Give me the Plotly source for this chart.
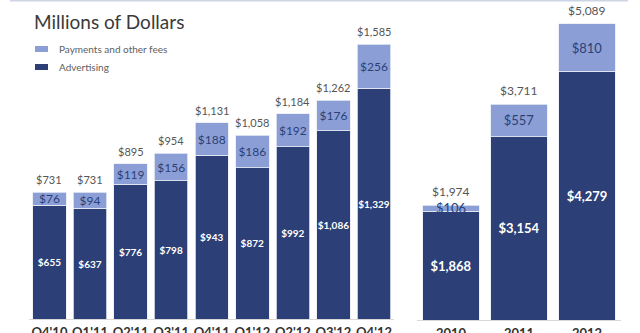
import plotly.graph_objects as go

# Quarterly revenue, millions of dollars
quarters = ["Q4'10", "Q1'11", "Q2'11", "Q3'11", "Q4'11", "Q1'12", "Q2'12", "Q3'12", "Q4'12"]
q_advertising = [655, 637, 776, 798, 943, 872, 992, 1086, 1329]
q_payments = [76, 94, 119, 156, 188, 186, 192, 176, 256]
q_total = [731, 731, 895, 954, 1131, 1058, 1184, 1262, 1585]

# Annual revenue, millions of dollars
years = ["2010", "2011", "2012"]
y_advertising = [1868, 3154, 4279]
y_payments = [106, 557, 810]
y_total = [1974, 3711, 5089]

DARK = "#2c3f76"
LIGHT = "#8b9fd6"
FONT = "Lato"
W, H = 640, 333

fig = go.Figure()


def money(v):
    return f"${v:,}"


def add_panel(cats, adv, pay, totals, xa, ya, adv_size, pay_size, total_size):
    fig.add_trace(go.Bar(
        x=cats, y=adv, name="Advertising", xaxis=xa, yaxis=ya,
        marker=dict(color=DARK, line=dict(color="#e8ecf5", width=0.8)),
        text=[money(v) for v in adv], textposition="inside",
        insidetextanchor="middle", constraintext="none", textangle=0,
        textfont=dict(family=FONT, size=adv_size, color="white", weight="bold"),
        showlegend=False, hoverinfo="skip",
    ))
    fig.add_trace(go.Bar(
        x=cats, y=pay, name="Payments and other fees", xaxis=xa, yaxis=ya,
        marker=dict(color=LIGHT, line=dict(color="#e8ecf5", width=0.8)),
        text=[money(v) for v in pay], textposition="inside",
        insidetextanchor="middle", constraintext="none", textangle=0,
        textfont=dict(family=FONT, size=pay_size, color=DARK),
        showlegend=False, hoverinfo="skip",
    ))
    # Totals above each stacked bar (x given as category index)
    for i, t in enumerate(totals):
        fig.add_annotation(
            x=i, y=t, xref=xa, yref=ya, text=money(t), showarrow=False,
            yanchor="bottom", yshift=4,
            font=dict(family=FONT, size=total_size, color="#555555"),
        )


add_panel(quarters, q_advertising, q_payments, q_total, "x", "y", 10, 12, 11)
add_panel(years, y_advertising, y_payments, y_total, "x2", "y2", 13, 13, 12)

# Title and legend
fig.add_annotation(
    x=32 / W, y=1 - 22 / H, xref="paper", yref="paper", xanchor="left", yanchor="middle",
    text="Millions of Dollars", showarrow=False,
    font=dict(family=FONT, size=19, color="#3a3a3a"),
)
for i, (label, color) in enumerate([("Payments and other fees", LIGHT), ("Advertising", DARK)]):
    yc = 49 + 18 * i
    fig.add_shape(
        type="rect", xref="paper", yref="paper",
        x0=35 / W, x1=48 / W, y0=1 - (yc - 3) / H, y1=1 - (yc + 3) / H,
        fillcolor=color, line=dict(width=0),
    )
    fig.add_annotation(
        x=57 / W, y=1 - yc / H, xref="paper", yref="paper", xanchor="left", yanchor="middle",
        text=label, showarrow=False, font=dict(family=FONT, size=10, color="#606060"),
    )

# Thin rule along the top edge
fig.add_shape(
    type="line", xref="paper", yref="paper", x0=10 / W, x1=628 / W, y0=0.998, y1=0.998,
    line=dict(color="#cdd5e4", width=1.5),
)

axis_common = dict(
    type="category", showgrid=False, zeroline=False, showline=True, linecolor="#d8d8d8",
    linewidth=1, ticks="", tickangle=0, automargin=False, ticklabelstandoff=1,
    tickfont=dict(family=FONT, size=13, color="#333333", weight="bold"),
    fixedrange=True,
)
yaxis_common = dict(showgrid=False, zeroline=False, showticklabels=False, showline=False,
                    automargin=False, fixedrange=True)

fig.update_layout(
    width=W, height=H,
    margin=dict(l=0, r=0, t=0, b=0),
    paper_bgcolor="white", plot_bgcolor="white",
    barmode="stack", bargap=0.175,
    xaxis=dict(domain=[29.2 / W, 394.3 / W], anchor="y", range=[-0.5, 8.5], **axis_common),
    yaxis=dict(domain=[14 / H, 1], range=[0, 319 / 0.1735], **yaxis_common),
    xaxis2=dict(domain=[417 / W, 621 / W], anchor="y2", range=[-0.5, 2.5], **axis_common),
    yaxis2=dict(domain=[13 / H, 1], range=[0, 320 / 0.05817], anchor="x2", **yaxis_common),
    font=dict(family=FONT),
)

fig.write_html("out.html")
